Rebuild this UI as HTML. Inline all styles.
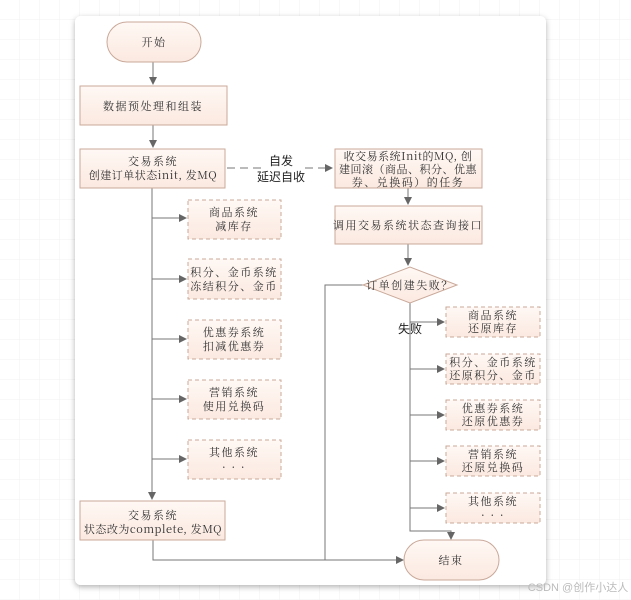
<!DOCTYPE html>
<html><head><meta charset="utf-8"><style>
html,body{margin:0;padding:0;width:631px;height:600px;overflow:hidden;background:#fff;}
svg{display:block;font-family:"Liberation Serif","Noto Serif CJK SC","Noto Sans CJK SC",serif;}
</style></head><body>
<svg width="631" height="600" viewBox="0 0 631 600" xmlns="http://www.w3.org/2000/svg">
<defs>
<pattern id="g" width="20" height="20" patternUnits="userSpaceOnUse"><path d="M20 0V20H0" fill="none" stroke="#f0f0f0" stroke-width="1"/></pattern>
<linearGradient id="f" x1="0" y1="0" x2="0" y2="1"><stop offset="0" stop-color="#fff8f4"/><stop offset="1" stop-color="#fbe9e0"/></linearGradient>
<filter id="sh" x="-5%" y="-5%" width="110%" height="110%"><feDropShadow dx="0" dy="2" stdDeviation="3" flood-color="#000" flood-opacity="0.3"/></filter>
<marker id="a" markerWidth="8" markerHeight="8" refX="7" refY="4" orient="auto" markerUnits="userSpaceOnUse"><path d="M0 0L8 4L0 8Z" fill="#666"/></marker>
</defs>
<rect width="631" height="600" fill="url(#g)"/>
<rect x="75" y="16" width="471" height="569" rx="6" fill="#fff" filter="url(#sh)"/>
<g stroke="#777" stroke-width="1" fill="none">
<path d="M153 62V84" marker-end="url(#a)"/>
<path d="M153 125V147" marker-end="url(#a)"/>
<path d="M227 168H332" stroke-dasharray="8,5" marker-end="url(#a)"/>
<path d="M408 188V204" marker-end="url(#a)"/>
<path d="M408 244V265" marker-end="url(#a)"/>
<path d="M152 188V499" marker-end="url(#a)"/>
<path d="M152 218H186" marker-end="url(#a)"/>
<path d="M152 279H186" marker-end="url(#a)"/>
<path d="M152 339H186" marker-end="url(#a)"/>
<path d="M152 399H186" marker-end="url(#a)"/>
<path d="M152 459H186" marker-end="url(#a)"/>
<path d="M153 540V560H403" marker-end="url(#a)"/>
<path d="M363 285H325V560"/>
<path d="M410 303V531H451V539" marker-end="url(#a)"/>
<path d="M410 322H444" marker-end="url(#a)"/>
<path d="M410 369H444" marker-end="url(#a)"/>
<path d="M410 415H444" marker-end="url(#a)"/>
<path d="M410 461H444" marker-end="url(#a)"/>
<path d="M410 508H444" marker-end="url(#a)"/>
</g>
<g fill="url(#f)" stroke="#c9a99a" stroke-width="1">
<rect x="107" y="22" width="94" height="40" rx="20"/>
<rect x="80" y="86" width="147" height="39"/>
<rect x="80" y="149" width="145" height="39"/>
<rect x="335" y="149" width="147" height="39"/>
<rect x="335" y="206" width="147" height="38"/>
<rect x="80" y="501" width="145" height="39"/>
<path d="M363 285L410 267L457 285L410 303Z"/>
<rect x="404" y="540" width="95" height="40" rx="20"/>
</g>
<g fill="url(#f)" stroke="#c9a99a" stroke-width="1" stroke-dasharray="4,3">
<rect x="188" y="200" width="93" height="39"/>
<rect x="188" y="259" width="93" height="40"/>
<rect x="188" y="320" width="93" height="39"/>
<rect x="188" y="380" width="93" height="39"/>
<rect x="188" y="440" width="93" height="39"/>
<rect x="446" y="307" width="94" height="30"/>
<rect x="446" y="354" width="94" height="30"/>
<rect x="446" y="400" width="94" height="30"/>
<rect x="446" y="446" width="94" height="30"/>
<rect x="446" y="493" width="94" height="30"/>
</g>
<g font-size="11" fill="#333" text-anchor="middle" style="letter-spacing:1.5px" font-family="Noto Serif CJK SC, Liberation Serif, serif">
<text x="154" y="46">开始</text>
<text x="153" y="110">数据预处理和组装</text>
<text x="153" y="165">交易系统</text>
<text x="153" y="179" style="letter-spacing:0.5px">创建订单状态init, 发MQ</text>
<text x="408" y="160" style="letter-spacing:0.5px">收交易系统Init的MQ, 创</text>
<text x="408" y="173" style="letter-spacing:0.5px">建回滚（商品、积分、优惠</text>
<text x="408" y="186">券、兑换码）的任务</text>
<text x="408" y="229">调用交易系统状态查询接口</text>
<text x="410" y="289">订单创建失败？</text>
<text x="153" y="519">交易系统</text>
<text x="153" y="533" style="letter-spacing:0.5px">状态改为complete, 发MQ</text>
<text x="451" y="564">结束</text>
<text x="234" y="216">商品系统</text><text x="234" y="230">减库存</text>
<text x="234" y="276">积分、金币系统</text><text x="234" y="290">冻结积分、金币</text>
<text x="234" y="336">优惠券系统</text><text x="234" y="350">扣减优惠券</text>
<text x="234" y="396">营销系统</text><text x="234" y="410">使用兑换码</text>
<text x="234" y="456">其他系统</text><text x="234" y="471">·  ·  ·</text>
<text x="493" y="319">商品系统</text><text x="493" y="332">还原库存</text>
<text x="493" y="366">积分、金币系统</text><text x="493" y="379">还原积分、金币</text>
<text x="493" y="412">优惠券系统</text><text x="493" y="425">还原优惠券</text>
<text x="493" y="458">营销系统</text><text x="493" y="471">还原兑换码</text>
<text x="493" y="505">其他系统</text><text x="493" y="519">·  ·  ·</text>
</g>
<g font-family="Liberation Sans,Noto Sans CJK SC,sans-serif" font-size="12" fill="#222" text-anchor="middle">
<rect x="262" y="152" width="40" height="30" fill="#fff"/>
<text x="281" y="165">自发</text>
<text x="281" y="181">延迟自收</text>
<text x="410" y="333">失败</text>
</g>
<text x="578" y="591" font-family="Liberation Sans,Noto Sans CJK SC,sans-serif" font-size="11" fill="#bbb" text-anchor="middle">CSDN @创作小达人</text>
</svg>
</body></html>
